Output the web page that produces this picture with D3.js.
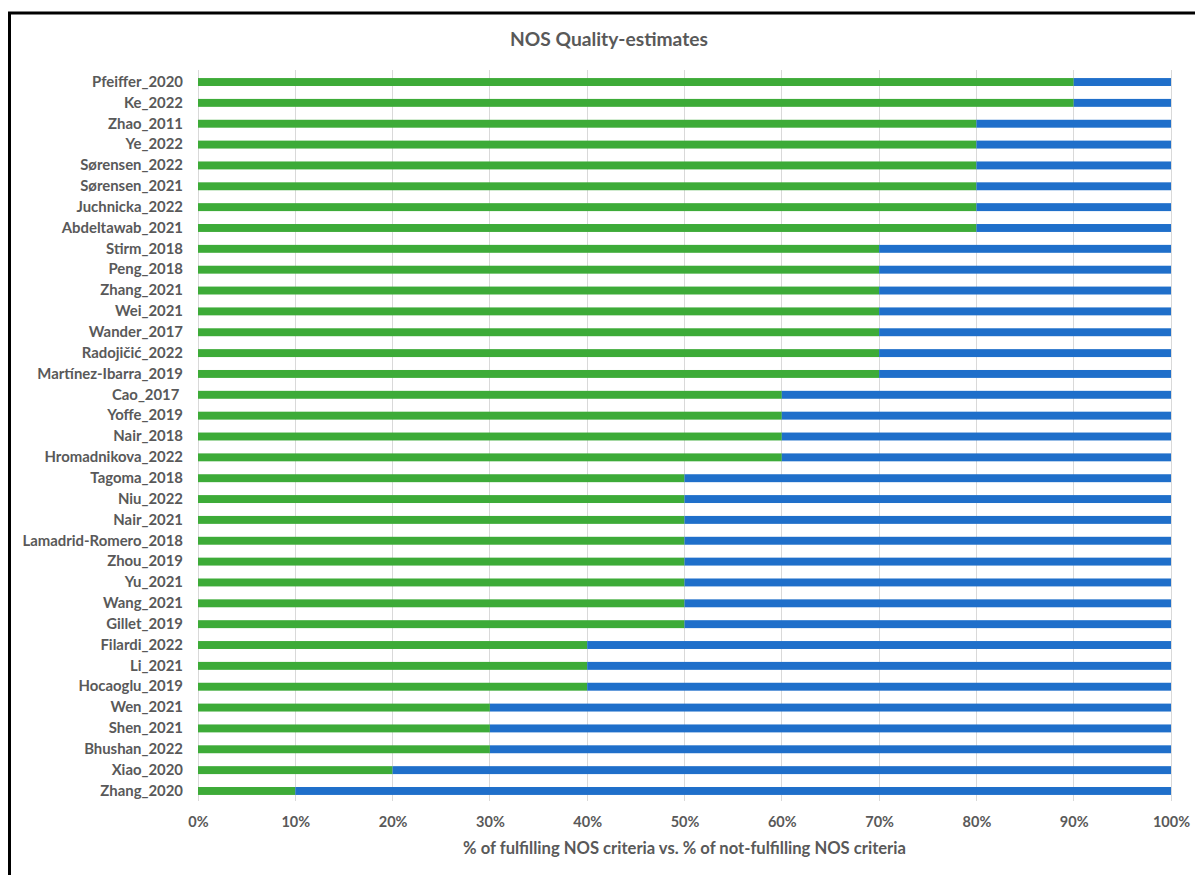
<!DOCTYPE html>
<html>
<head>
<meta charset="utf-8">
<script src="https://cdn.jsdelivr.net/npm/d3@7"></script>
<style>
  html, body { margin: 0; padding: 0; background: #fff; }
  svg { display: block; }
  text { font-family: Lato, "Open Sans", sans-serif; font-weight: bold; fill: #595959; }
</style>
</head>
<body>
<svg id="chart" width="1195" height="875"></svg>
<script>
// Studies, top to bottom
const studies = [
  "Pfeiffer_2020", "Ke_2022", "Zhao_2011", "Ye_2022", "Sørensen_2022", "Sørensen_2021",
  "Juchnicka_2022", "Abdeltawab_2021", "Stirm_2018", "Peng_2018", "Zhang_2021", "Wei_2021",
  "Wander_2017", "Radojičić_2022", "Martínez-Ibarra_2019", "Cao_2017 ", "Yoffe_2019",
  "Nair_2018", "Hromadnikova_2022", "Tagoma_2018", "Niu_2022", "Nair_2021",
  "Lamadrid-Romero_2018", "Zhou_2019", "Yu_2021", "Wang_2021", "Gillet_2019", "Filardi_2022",
  "Li_2021", "Hocaoglu_2019", "Wen_2021", "Shen_2021", "Bhushan_2022", "Xiao_2020", "Zhang_2020"
];

// % of NOS criteria fulfilled
const fulfilled = [
  90, 90, 80, 80, 80, 80,
  80, 80, 70, 70, 70, 70,
  70, 70, 70, 60, 60,
  60, 60, 50, 50, 50,
  50, 50, 50, 50, 50, 40,
  40, 40, 30, 30, 30, 20, 10
];

// % of NOS criteria not fulfilled
const notFulfilled = [
  10, 10, 20, 20, 20, 20,
  20, 20, 30, 30, 30, 30,
  30, 30, 30, 40, 40,
  40, 40, 50, 50, 50,
  50, 50, 50, 50, 50, 60,
  60, 60, 70, 70, 70, 80, 90
];

const xTicks = [0, 10, 20, 30, 40, 50, 60, 70, 80, 90, 100];

const seriesKeys = ["fulfilled", "notFulfilled"];
const seriesColors = ["#3dab38", "#1f6fca"];

const rows = studies.map((s, i) => ({ study: s, fulfilled: fulfilled[i], notFulfilled: notFulfilled[i] }));
const stacked = d3.stack().keys(seriesKeys)(rows);

const svg = d3.select("#chart");

// chart frame
svg.append("line").attr("x1", 9.5).attr("x2", 9.5).attr("y1", 12).attr("y2", 875)
  .attr("stroke", "#000").attr("stroke-width", 3);
svg.append("line").attr("x1", 8).attr("x2", 1195).attr("y1", 13).attr("y2", 13)
  .attr("stroke", "#000").attr("stroke-width", 3);

const plot = { left: 198, right: 1171, top: 71.6, bottom: 801.4 };

const x = d3.scaleLinear().domain([0, 100]).range([plot.left, plot.right]);
const y = d3.scaleBand().domain(studies).range([plot.top, plot.bottom]).paddingInner(0.62).paddingOuter(0.31);

// vertical gridlines
svg.append("g").selectAll("line").data(xTicks).join("line")
  .attr("x1", d => x(d)).attr("x2", d => x(d))
  .attr("y1", plot.top - 1.5).attr("y2", plot.bottom)
  .attr("stroke", "#d9d9d9").attr("stroke-width", 1)
  .attr("shape-rendering", "crispEdges");

// stacked bars
svg.append("g").selectAll("g").data(stacked).join("g")
  .attr("fill", (d, i) => seriesColors[i])
  .selectAll("rect").data(d => d).join("rect")
  .attr("x", d => x(d[0]))
  .attr("width", d => x(d[1]) - x(d[0]))
  .attr("y", d => y(d.data.study))
  .attr("height", y.bandwidth());

// category axis
const yAxis = svg.append("g").attr("transform", `translate(${plot.left},0)`)
  .call(d3.axisLeft(y).tickSize(0).tickPadding(15));
yAxis.select(".domain").remove();
yAxis.selectAll("text")
  .style("font-size", "14.9px").style("font-family", "Lato, sans-serif")
  .style("font-weight", "bold").style("fill", "#595959")
  .style("white-space", "pre");

// value axis
const xAxis = svg.append("g").attr("transform", `translate(0,${plot.bottom})`)
  .call(d3.axisBottom(x).tickValues(xTicks).tickFormat(d => d + "%").tickSize(0).tickPadding(15));
xAxis.select(".domain").remove();
xAxis.selectAll("text")
  .style("font-size", "14.5px").style("font-family", "Lato, sans-serif")
  .style("font-weight", "bold").style("fill", "#595959");

// axis title
svg.append("text")
  .attr("x", (458 + 911) / 2).attr("y", 854)
  .attr("text-anchor", "middle").style("font-size", "16.6px")
  .text("% of fulfilling NOS criteria vs. % of not-fulfilling NOS criteria");

// chart title
svg.append("text")
  .attr("x", 609).attr("y", 46)
  .attr("text-anchor", "middle").style("font-size", "19.2px")
  .text("NOS Quality-estimates");
</script>
</body>
</html>
